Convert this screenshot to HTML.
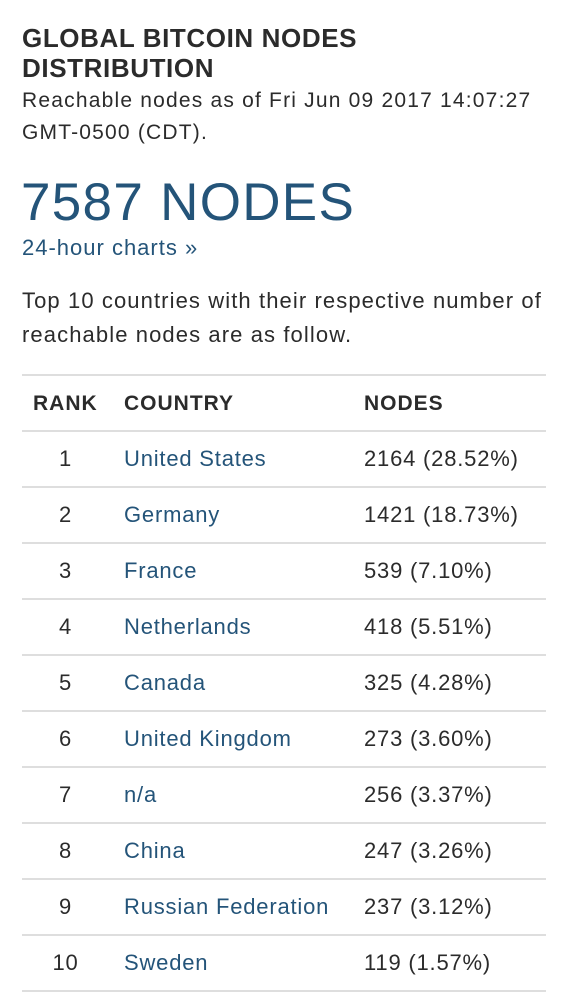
<!DOCTYPE html>
<html><head><meta charset="utf-8"><style>
body{margin:0;width:570px;height:1006px;background:#fff;position:relative;font-family:"Liberation Sans",sans-serif;color:#2b2b2b;overflow:hidden}
.a{position:absolute;line-height:1;white-space:nowrap}
.t{font-weight:bold;font-size:26px;left:22px;color:#2b2b2b;letter-spacing:0.6px}
.s{font-size:21px;left:22px;letter-spacing:1.2px}
.hr{position:absolute;left:22px;width:524px;height:2px;background:#dedede}
.h{font-weight:bold;font-size:21px;top:393px;letter-spacing:1px}
.r{font-size:22px;letter-spacing:0.8px}
.c{color:#245479}
</style></head><body>
<div class="a t" style="top:25px">GLOBAL BITCOIN NODES</div>
<div class="a t" style="top:55px">DISTRIBUTION</div>
<div class="a s" style="top:90px">Reachable nodes as of Fri Jun 09 2017 14:07:27</div>
<div class="a s" style="top:122px">GMT-0500 (CDT).</div>
<div class="a" style="top:176px;left:21px;font-size:53px;color:#245479;letter-spacing:1.3px">7587 NODES</div>
<div class="a c" style="top:237px;left:22px;font-size:22px;letter-spacing:1px">24-hour charts »</div>
<div class="a" style="top:290px;left:22px;font-size:22px;letter-spacing:1.1px">Top 10 countries with their respective number of</div>
<div class="a" style="top:324px;left:22px;font-size:22px;letter-spacing:1.1px">reachable nodes are as follow.</div>
<div class="hr" style="top:374px"></div>
<div class="a h" style="left:33px">RANK</div>
<div class="a h" style="left:124px">COUNTRY</div>
<div class="a h" style="left:364px">NODES</div>
<div id="rows"></div>
<script>
const countries=["United States","Germany","France","Netherlands","Canada","United Kingdom","n/a","China","Russian Federation","Sweden"];
const nodes=[2164,1421,539,418,325,273,256,247,237,119];
const pcts=["28.52","18.73","7.10","5.51","4.28","3.60","3.37","3.26","3.12","1.57"];
const root=document.getElementById('rows');
for(let i=0;i<countries.length;i++){
  const y=430+56*i;
  const line=document.createElement('div');line.className='hr';line.style.top=y+'px';
  
  
  root.appendChild(line);
  const rk=document.createElement('div');rk.className='a r';rk.style.top=(y+18)+'px';rk.style.left='33px';rk.style.width='65px';rk.style.textAlign='center';rk.textContent=i+1;
  
  
  root.appendChild(rk);
  const c=document.createElement('div');c.className='a r c';c.style.top=(y+18)+'px';c.style.left='124px';c.textContent=countries[i];
  
  
  root.appendChild(c);
  const n=document.createElement('div');n.className='a r';n.style.top=(y+18)+'px';n.style.left='364px';n.textContent=nodes[i]+' ('+pcts[i]+'%)';
  
  
  root.appendChild(n);
}
const last=document.createElement('div');last.className='hr';last.style.top=(430+56*countries.length)+'px';


root.appendChild(last);
</script>
</body></html>
